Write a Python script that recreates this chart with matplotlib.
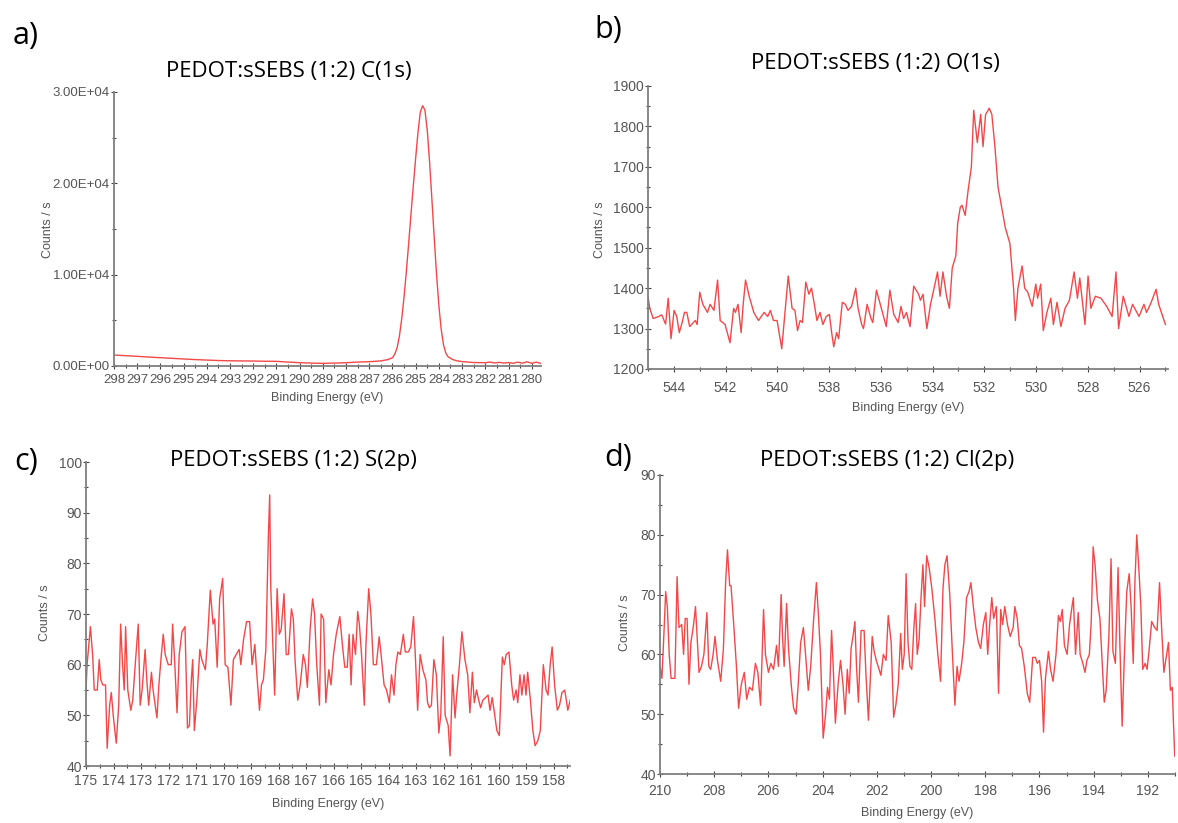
import numpy as np
import matplotlib
matplotlib.use("Agg")
import matplotlib.pyplot as plt
from matplotlib.ticker import MultipleLocator, FuncFormatter

# ---- data ----
c1s_ev = [298.0, 297.5, 297.0, 296.5, 296.0, 295.5, 295.0, 294.5, 294.0, 293.5,
          293.0, 292.5, 292.0, 291.5, 291.0, 290.5, 290.0, 289.5, 289.0, 288.5,
          288.0, 287.5, 287.0, 286.5, 286.2, 286.0, 285.9, 285.8, 285.7, 285.6,
          285.5, 285.4, 285.3, 285.2, 285.1, 285.0, 284.9, 284.8, 284.7, 284.6,
          284.5, 284.4, 284.3, 284.2, 284.1, 284.0, 283.9, 283.8, 283.7, 283.6,
          283.4, 283.2, 283.0, 282.5, 282.0, 281.8, 281.6, 281.4, 281.2, 281.0,
          280.8, 280.6, 280.4, 280.2, 280.0, 279.8, 279.6]
c1s_cps = [1200, 1130, 1060, 980, 910, 840, 770, 700, 650, 600,
           570, 555, 545, 520, 510, 430, 360, 320, 290, 320,
           360, 430, 470, 560, 700, 900, 1300, 2000, 3300, 5200,
           7600, 10400, 13500, 16700, 19800, 22800, 25600, 27800, 28500, 28000,
           25800, 22300, 18200, 14000, 10000, 6600, 4000, 2300, 1400, 1000,
           700, 560, 480, 380, 360, 430, 330, 400, 320, 380,
           300, 420, 310, 460, 300, 420, 280]

o1s_ev = [545.00, 544.93, 544.80, 544.61, 544.47, 544.32, 544.22, 544.11, 543.99, 543.89,
          543.79, 543.68, 543.59, 543.50, 543.39, 543.17, 543.10, 543.00, 542.88, 542.70,
          542.60, 542.45, 542.31, 542.21, 542.02, 541.83, 541.69, 541.62, 541.52, 541.40,
          541.32, 541.23, 541.09, 540.91, 540.73, 540.51, 540.37, 540.27, 540.15, 540.01,
          539.83, 539.72, 539.58, 539.43, 539.32, 539.22, 539.12, 539.03, 538.90, 538.78,
          538.68, 538.57, 538.47, 538.35, 538.24, 538.11, 537.99, 537.89, 537.82, 537.71,
          537.63, 537.49, 537.37, 537.27, 537.13, 536.97, 536.88, 536.74, 536.67, 536.53,
          536.38, 536.31, 536.17, 535.98, 535.79, 535.65, 535.50, 535.33, 535.22, 535.12,
          535.01, 534.87, 534.73, 534.54, 534.47, 534.37, 534.22, 534.08, 533.89, 533.81,
          533.71, 533.60, 533.46, 533.35, 533.24, 533.10, 533.03, 532.93, 532.86, 532.74,
          532.63, 532.50, 532.41, 532.27, 532.14, 532.05, 531.95, 531.85, 531.81, 531.71,
          531.59, 531.47, 531.33, 531.19, 531.01, 530.87, 530.80, 530.70, 530.54, 530.44,
          530.32, 530.15, 530.01, 529.94, 529.82, 529.72, 529.58, 529.43, 529.33, 529.19,
          529.04, 528.88, 528.71, 528.53, 528.40, 528.31, 528.11, 527.99, 527.88, 527.71,
          527.49, 527.27, 527.06, 526.91, 526.81, 526.63, 526.41, 526.27, 526.02, 525.83,
          525.73, 525.58, 525.36, 525.26, 525.00]
o1s_cps = [1379, 1350, 1325, 1329, 1334, 1311, 1375, 1275, 1345, 1330,
           1290, 1315, 1340, 1340, 1305, 1320, 1310, 1390, 1360, 1340,
           1360, 1345, 1420, 1320, 1310, 1265, 1350, 1340, 1360, 1290,
           1360, 1420, 1380, 1340, 1320, 1340, 1330, 1345, 1320, 1320,
           1250, 1330, 1430, 1350, 1345, 1295, 1320, 1315, 1415, 1385,
           1400, 1360, 1320, 1340, 1310, 1330, 1335, 1285, 1255, 1290,
           1275, 1365, 1360, 1345, 1355, 1400, 1350, 1310, 1300, 1360,
           1325, 1315, 1395, 1350, 1305, 1395, 1335, 1315, 1355, 1325,
           1340, 1305, 1405, 1385, 1370, 1385, 1300, 1360, 1415, 1440,
           1380, 1440, 1380, 1350, 1450, 1480, 1560, 1600, 1605, 1580,
           1640, 1700, 1840, 1760, 1830, 1750, 1830, 1840, 1845, 1830,
           1750, 1650, 1600, 1550, 1510, 1400, 1320, 1400, 1455, 1400,
           1390, 1355, 1410, 1375, 1410, 1295, 1340, 1375, 1310, 1365,
           1305, 1350, 1370, 1440, 1375, 1425, 1310, 1430, 1350, 1380,
           1375, 1355, 1330, 1440, 1300, 1380, 1330, 1360, 1330, 1360,
           1340, 1360, 1397, 1360, 1310]

s2p_ev = [175.00, 174.96, 174.84, 174.76, 174.70, 174.59, 174.52, 174.46, 174.39, 174.29,
          174.23, 174.14, 174.08, 174.01, 173.90, 173.81, 173.74, 173.67, 173.61, 173.56,
          173.48, 173.37, 173.30, 173.21, 173.10, 173.03, 172.96, 172.85, 172.79, 172.72,
          172.62, 172.56, 172.42, 172.35, 172.26, 172.19, 172.12, 172.01, 171.90, 171.85,
          171.77, 171.69, 171.61, 171.51, 171.40, 171.31, 171.24, 171.17, 171.12, 171.06,
          170.97, 170.86, 170.79, 170.66, 170.59, 170.48, 170.38, 170.32, 170.23, 170.14,
          170.03, 169.94, 169.84, 169.73, 169.64, 169.54, 169.43, 169.37, 169.27, 169.16,
          169.05, 168.96, 168.86, 168.80, 168.69, 168.62, 168.55, 168.46, 168.37, 168.32,
          168.28, 168.18, 168.14, 168.05, 167.97, 167.90, 167.80, 167.72, 167.64, 167.53,
          167.46, 167.40, 167.30, 167.21, 167.10, 167.02, 166.95, 166.85, 166.76, 166.69,
          166.61, 166.51, 166.45, 166.36, 166.28, 166.17, 166.09, 166.00, 165.90, 165.77,
          165.66, 165.59, 165.50, 165.43, 165.36, 165.29, 165.20, 165.12, 165.06, 164.98,
          164.88, 164.82, 164.72, 164.64, 164.55, 164.44, 164.34, 164.27, 164.16, 164.07,
          163.97, 163.89, 163.80, 163.73, 163.66, 163.57, 163.46, 163.39, 163.28, 163.19,
          163.09, 163.01, 162.94, 162.85, 162.75, 162.64, 162.58, 162.51, 162.44, 162.35,
          162.26, 162.17, 162.10, 162.01, 161.94, 161.83, 161.76, 161.67, 161.58, 161.52,
          161.42, 161.33, 161.22, 161.12, 161.04, 160.95, 160.88, 160.80, 160.72, 160.65,
          160.57, 160.47, 160.38, 160.31, 160.23, 160.16, 160.06, 159.97, 159.86, 159.79,
          159.72, 159.62, 159.52, 159.45, 159.36, 159.30, 159.22, 159.15, 159.07, 159.00,
          158.94, 158.84, 158.75, 158.67, 158.57, 158.48, 158.37, 158.27, 158.20, 158.12,
          158.05, 157.96, 157.86, 157.78, 157.69, 157.59, 157.48, 157.39]
s2p_cps = [55, 60, 67.5, 62, 55, 55, 61, 57, 56, 56,
           43.5, 52, 54.5, 50, 44.5, 52, 68, 60, 55, 67.5,
           55, 51, 53, 60, 68, 52, 55, 63, 57, 52,
           58.5, 55, 49.5, 56, 62, 66, 62, 60, 60, 68,
           60, 50.5, 62, 66.5, 67.5, 47.5, 48, 57, 61, 47,
           53, 63, 61, 59, 64, 74.7, 68, 69, 59.5, 73,
           77, 60, 59.5, 52, 61, 62, 63, 60, 65, 68.5,
           68.5, 60, 64, 59, 51, 56, 57, 63, 85, 93.5,
           75, 60, 54, 75, 66, 67, 74, 62, 62, 71,
           69, 61, 53, 56, 62, 60, 55.5, 67, 73, 70,
           60, 52, 70, 69, 52.5, 59, 56, 62, 66, 69.5,
           63, 59.5, 59.5, 66, 56, 66, 62, 70.5, 68, 62,
           52, 64, 75, 70, 60, 60, 65.5, 62, 56, 55,
           52.5, 58, 54, 60, 62.5, 62, 66, 62.5, 62.5, 63.5,
           69.5, 60, 51, 62, 59, 57, 52.5, 51.5, 52, 61,
           58, 46.5, 50, 65.5, 50, 48, 42, 58, 49.5, 54,
           60, 66.5, 61, 58, 50.5, 58.5, 52.5, 55, 53, 51.5,
           53, 53.5, 54, 51, 53.5, 51, 47, 46, 61.5, 60,
           62, 62.5, 56, 53, 55, 52.5, 58, 54, 58, 54,
           58.5, 53, 47, 44, 45, 47, 60, 55, 54, 60,
           63.5, 56, 51, 52, 54.5, 55, 51, 53]

cl2p_ev = [210.00, 209.93, 209.86, 209.79, 209.73, 209.66, 209.59, 209.52, 209.45, 209.37,
           209.30, 209.20, 209.13, 209.07, 209.00, 208.93, 208.86, 208.76, 208.69, 208.63,
           208.56, 208.47, 208.38, 208.27, 208.20, 208.13, 208.04, 207.97, 207.88, 207.76,
           207.66, 207.58, 207.51, 207.43, 207.38, 207.28, 207.18, 207.10, 207.00, 206.89,
           206.80, 206.70, 206.59, 206.48, 206.39, 206.29, 206.18, 206.11, 206.00, 205.91,
           205.81, 205.70, 205.63, 205.53, 205.48, 205.42, 205.33, 205.26, 205.15, 205.07,
           204.98, 204.90, 204.81, 204.71, 204.63, 204.53, 204.44, 204.33, 204.23, 204.16,
           204.08, 203.98, 203.89, 203.82, 203.75, 203.67, 203.61, 203.53, 203.43, 203.34,
           203.25, 203.17, 203.09, 203.02, 202.95, 202.88, 202.81, 202.75, 202.68, 202.58,
           202.47, 202.40, 202.31, 202.24, 202.17, 202.10, 202.02, 201.92, 201.85, 201.76,
           201.66, 201.58, 201.47, 201.38, 201.30, 201.21, 201.12, 201.06, 200.99, 200.92,
           200.85, 200.78, 200.71, 200.64, 200.57, 200.51, 200.44, 200.37, 200.30, 200.24,
           200.16, 200.07, 199.97, 199.86, 199.75, 199.65, 199.56, 199.49, 199.41, 199.31,
           199.21, 199.12, 199.04, 198.97, 198.87, 198.79, 198.69, 198.60, 198.53, 198.44,
           198.35, 198.25, 198.17, 198.07, 197.98, 197.91, 197.83, 197.76, 197.69, 197.59,
           197.51, 197.43, 197.36, 197.28, 197.18, 197.08, 196.97, 196.91, 196.82, 196.74,
           196.66, 196.56, 196.45, 196.36, 196.25, 196.15, 196.08, 196.00, 195.92, 195.85,
           195.78, 195.67, 195.59, 195.50, 195.39, 195.30, 195.23, 195.16, 195.08, 194.98,
           194.89, 194.80, 194.75, 194.67, 194.57, 194.50, 194.40, 194.32, 194.25, 194.16,
           194.09, 194.02, 193.95, 193.86, 193.77, 193.68, 193.61, 193.54, 193.44, 193.36,
           193.29, 193.20, 193.10, 193.03, 192.95, 192.87, 192.78, 192.69, 192.62, 192.54,
           192.48, 192.41, 192.33, 192.26, 192.19, 192.10, 192.03, 191.96, 191.86, 191.75,
           191.66, 191.57, 191.50, 191.41, 191.31, 191.24, 191.17, 191.10, 191.06, 191.01]
cl2p_cps = [58, 56, 63, 70.5, 68, 60, 56, 56, 56, 73,
            64.5, 65, 60, 66, 66, 55, 62, 65, 68, 63,
            57, 58, 60, 67, 58, 57.5, 60, 63, 59, 55.5,
            61, 72, 77.5, 71.5, 71.5, 65, 58, 51, 55, 57,
            52.5, 54.5, 54, 58.5, 57, 51.5, 67.5, 60, 57, 58.5,
            57.5, 61.5, 58, 70, 63, 58, 68.5, 61, 54.5, 51,
            50, 55, 62, 64.5, 60, 54, 58, 66, 72, 67,
            60, 46, 50, 54.5, 52.5, 64, 58, 48.5, 55, 59,
            55, 50, 57.5, 53.5, 61, 63, 65.5, 58, 52, 64,
            64, 56.5, 49, 56, 63, 60.5, 59, 57.5, 56.5, 60,
            59, 66.5, 62, 49.5, 51.5, 55, 63.5, 57.5, 60, 73.5,
            62, 58, 57.5, 64, 68.5, 60, 62.5, 69.5, 75, 68,
            76.5, 74.5, 71, 66, 60, 55.5, 71, 75, 76.5, 70,
            60, 51.5, 58, 55.5, 58.5, 62, 69.5, 70.5, 72, 68,
            64.5, 62, 61, 65, 67, 60, 65.5, 69.5, 66, 68,
            53.5, 67.5, 65, 68, 65, 63, 64.5, 68, 66, 61.5,
            61, 58, 53.5, 52, 59.5, 59.5, 58.5, 59, 55.5, 47,
            56, 60.5, 57.5, 55.5, 60, 66.5, 65.5, 67.5, 61.5, 60,
            65, 68, 69.5, 60, 67, 60, 58.5, 57, 59, 60,
            65.5, 78, 75, 69, 66, 58, 52, 54, 63, 76,
            60.5, 58.5, 74.5, 61, 48, 59.5, 70.5, 73.5, 68, 58.5,
            72, 80, 74, 68, 57.5, 58.5, 57.5, 60.5, 65.5, 64.5,
            64, 72, 65, 57, 60, 62, 54, 54.5, 49, 43]

titles = ["PEDOT:sSEBS (1:2) C(1s)", "PEDOT:sSEBS (1:2) O(1s)",
          "PEDOT:sSEBS (1:2) S(2p)", "PEDOT:sSEBS (1:2) Cl(2p)"]
letters = ["a)", "b)", "c)", "d)"]

W, H = 1178, 823
fig = plt.figure(figsize=(W / 100, H / 100), dpi=100)

def px_axes(l, r, t, b):
    return fig.add_axes([l / W, 1 - b / H, (r - l) / W, (b - t) / H])

def px_text(x, y, s, **kw):
    fig.text(x / W, 1 - y / H, s, ha="center", va="center", **kw)

grey = "#7f7f7f"
lab = "#555555"
red = "#f24848"
tfont = ["Open Sans", "DejaVu Sans"]
sfont = ["Liberation Sans", "DejaVu Sans"]
nfont = ["Liberation Sans Narrow", "Liberation Sans", "DejaVu Sans"]

# panel boxes (left, right, top, bottom in px) and axis settings
panels = [
    dict(box=(114, 541, 92, 366), x=c1s_ev, y=c1s_cps, xlim=(298, 279.6), ylim=(0, 30000),
         xmaj=1, xmin=0.5, ymaj=10000, ymin=5000, fs=9.5, font=nfont, xpad=4, lpad=4,
         title=(289, 72), letter=(26, 36), ylab=(48, 230)),
    dict(box=(648, 1168, 86, 369), x=o1s_ev, y=o1s_cps, xlim=(545, 524.9), ylim=(1200, 1900),
         xmaj=2, xmin=1, ymaj=100, ymin=50, fs=10, font=sfont, xpad=6.5, lpad=5,
         title=(875, 64), letter=(608, 30), ylab=(600, 230)),
    dict(box=(86, 570, 462, 766), x=s2p_ev, y=s2p_cps, xlim=(175, 157.4), ylim=(40, 100),
         xmaj=1, xmin=0.5, ymaj=10, ymin=5, fs=10, font=sfont, xpad=3.6, lpad=7,
         title=(293, 461), letter=(26, 462), ylab=(45, 613)),
    dict(box=(660, 1175, 475, 774), x=cl2p_ev, y=cl2p_cps, xlim=(210, 191), ylim=(40, 90),
         xmaj=2, xmin=1, ymaj=10, ymin=5, fs=10, font=sfont, xpad=5, lpad=7,
         title=(887, 461), letter=(618, 458), ylab=(625, 623)),
]

for i, p in enumerate(panels):
    ax = px_axes(*p["box"])
    ax.plot(p["x"], p["y"], color=red, lw=1.0)
    ax.set_xlim(*p["xlim"])
    ax.set_ylim(*p["ylim"])
    ax.xaxis.set_major_locator(MultipleLocator(p["xmaj"]))
    ax.xaxis.set_minor_locator(MultipleLocator(p["xmin"]))
    ax.yaxis.set_major_locator(MultipleLocator(p["ymaj"]))
    ax.yaxis.set_minor_locator(MultipleLocator(p["ymin"]))
    if i == 0:
        ax.yaxis.set_major_formatter(FuncFormatter(lambda v, pos: "{:.2E}".format(v)))
    else:
        ax.xaxis.set_major_formatter(FuncFormatter(lambda v, pos: "%d" % round(v)))
    for s in ["top", "right"]:
        ax.spines[s].set_visible(False)
    for s in ["left", "bottom"]:
        ax.spines[s].set_color(grey)
        ax.spines[s].set_linewidth(1.3)
    ax.tick_params(which="both", direction="inout", color="#444444", width=0.8,
                   labelsize=p["fs"], labelcolor=lab)
    ax.tick_params(axis="x", which="major", pad=p["xpad"])
    ax.tick_params(axis="y", which="major", pad=1)
    ax.tick_params(which="major", length=4)
    ax.tick_params(which="minor", length=3)
    for t in ax.get_xticklabels() + ax.get_yticklabels():
        t.set_family(p["font"])
    ax.set_xlabel("Binding Energy (eV)", fontsize=9, color=lab, family=p["font"],
                  labelpad=p["lpad"])
    px_text(*p["ylab"], "Counts / s", rotation=90, fontsize=9, color=lab, family=p["font"])
    px_text(*p["title"], titles[i], fontsize=16, family=tfont, color="black")
    px_text(*p["letter"], letters[i], fontsize=22, family=tfont, color="black")

fig.savefig("out.png", dpi=100, facecolor="white")
